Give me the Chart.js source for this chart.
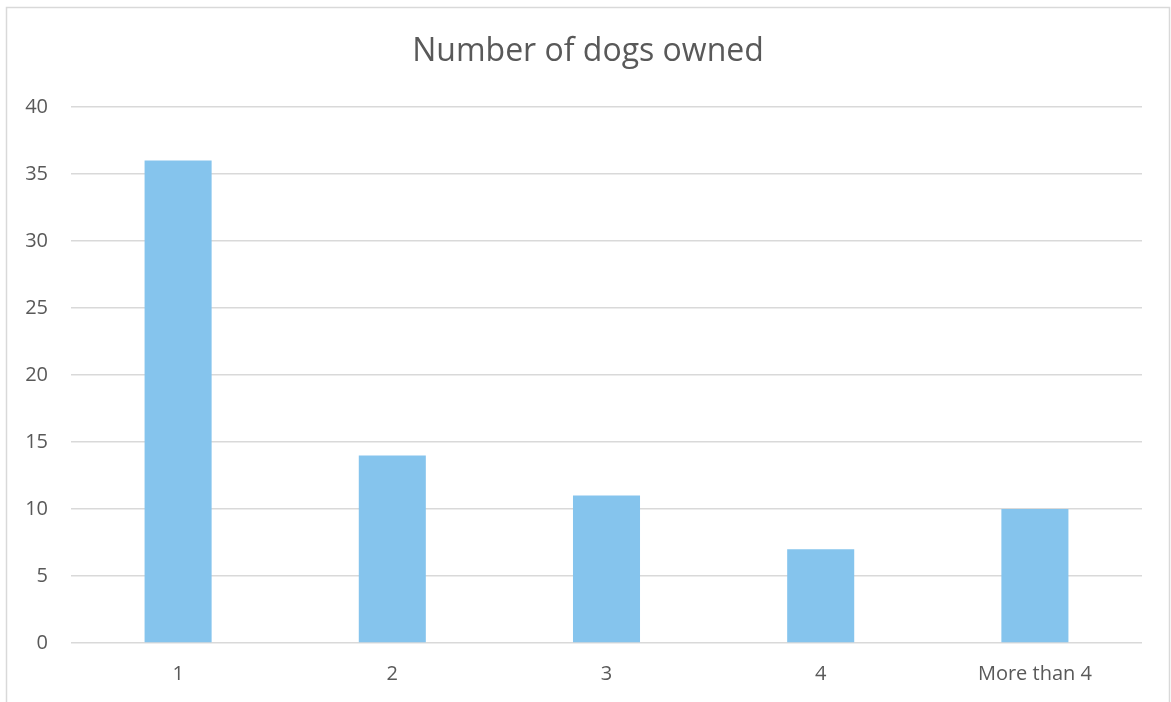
<!DOCTYPE html>
<html>
<head>
<meta charset="utf-8">
<script src="https://cdn.jsdelivr.net/npm/chart.js@4/dist/chart.umd.min.js"></script>
<style>
  html, body { margin: 0; padding: 0; background: #ffffff; }
  #wrap { width: 1171px; height: 702px; position: relative; }
</style>
</head>
<body>
<div id="wrap"><canvas id="c" width="1171" height="702"></canvas></div>
<script>
const categories = ['1', '2', '3', '4', 'More than 4'];
const dogCounts = [36, 14, 11, 7, 10];
const yTicks = [0, 5, 10, 15, 20, 25, 30, 35, 40];

const FONT = "'Open Sans', 'Liberation Sans', sans-serif";
const TEXT = '#595959';
const GRID = '#d9d9d9';

// Light frame around the whole chart; title centred on the frame
const framePlugin = {
  id: 'frame',
  afterLayout(chart) {
    const t = chart.titleBlock;
    if (t) { t.left = 6; t.right = 1170; }
  },
  beforeDraw(chart) {
    const ctx = chart.ctx;
    ctx.save();
    ctx.fillStyle = '#ffffff';
    ctx.fillRect(0, 0, chart.width, chart.height);
    ctx.strokeStyle = GRID;
    ctx.lineWidth = 1.5;
    ctx.strokeRect(6.5, 7.5, 1163, 720);
    ctx.restore();
  }
};

new Chart(document.getElementById('c'), {
  type: 'bar',
  data: {
    labels: categories,
    datasets: [{
      data: dogCounts,
      backgroundColor: '#85c4ed',
      borderWidth: 0,
      categoryPercentage: 1,
      barPercentage: 0.313
    }]
  },
  options: {
    responsive: false,
    animation: false,
    layout: { padding: { left: 10, right: 29, top: 0, bottom: 0 } },
    plugins: {
      legend: { display: false },
      tooltip: { enabled: false },
      title: {
        display: true,
        text: 'Number of dogs owned',
        color: TEXT,
        font: { family: FONT, size: 32, weight: 'normal', lineHeight: 1.2 },
        padding: { top: 33, bottom: 35.6 }
      }
    },
    scales: {
      x: {
        grid: { display: false, drawTicks: false },
        border: { display: false },
        ticks: { color: TEXT, font: { family: FONT, size: 20 }, padding: 19, maxRotation: 0 },
        afterFit(scale) { scale.height = 59; }
      },
      y: {
        min: 0,
        max: 40,
        afterBuildTicks(scale) { scale.ticks = yTicks.map(v => ({ value: v })); },
        grid: { color: GRID, lineWidth: 1.5, drawTicks: false },
        border: { display: false },
        ticks: { color: TEXT, font: { family: FONT, size: 20 }, padding: 23 },
        afterFit(scale) { scale.width = 61; }
      }
    }
  },
  plugins: [framePlugin]
});
</script>
</body>
</html>
